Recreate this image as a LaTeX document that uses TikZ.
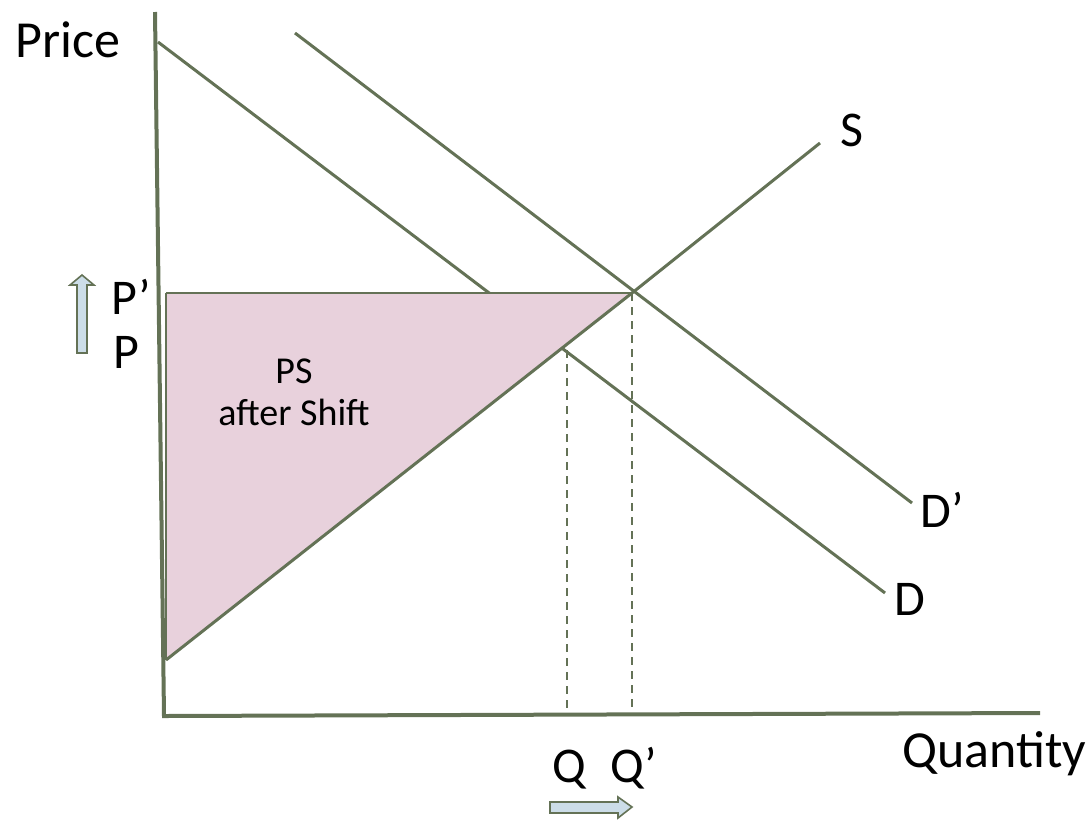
\documentclass[tikz,border=0pt]{standalone}
\usepackage{fontspec}
\setmainfont{Carlito}
\usepackage{tikz}
\usetikzlibrary{positioning}

\definecolor{curve}{HTML}{647256}
\definecolor{psfill}{HTML}{E8D1DC}
\definecolor{shiftfill}{HTML}{CCDDE8}

\begin{document}
\begin{tikzpicture}[
		x=0.5pt, y=-0.5pt,
		axis/.style={draw=curve, line width=2pt},
		curveline/.style={draw=curve, line width=1.5pt},
		thinline/.style={draw=curve, line width=0.9pt},
		guide/.style={draw=curve, line width=0.6pt, dash pattern=on 4pt off 3pt},
		surplus/.style={fill=psfill},
		shiftarrow/.style={draw=curve, line width=0.8pt, fill=shiftfill},
		biglabel/.style={font=\fontsize{25}{28}\selectfont, inner sep=0pt},
		axislabel/.style={font=\fontsize{26}{29}\selectfont, inner sep=0pt},
		arealabel/.style={font=\fontsize{19}{21}\selectfont, align=center, inner sep=0pt}
		]
		\useasboundingbox (0,0) rectangle (1091,820);
		
		% Key points
		\coordinate (top) at (155,12);
		\coordinate (origin) at (164,716);
		\coordinate (right) at (1040,713);
		\coordinate (eq) at (632,293);
		\coordinate (eqold) at (567,350);
		\coordinate (pprime) at (166,293);
		\coordinate (sbase) at (166,660);
		
		% Demand curves
		\draw[curveline] (158,42) coordinate (dstart) -- (885,593) coordinate (dend);
		\draw[curveline] (295,33) coordinate (dpstart) -- (912,503) coordinate (dpend);
		
		% Producer surplus
		\fill[surplus] (pprime) -- (eq) -- (sbase) -- cycle;
		
		% Supply curve and price line
		\draw[curveline] (sbase) -- (eq) -- (820,143) coordinate (send);
		\draw[thinline] (pprime) -- (eq);
		\draw[thinline] (pprime) -- (sbase);
		
		% Quantity guides
		\draw[guide] (eqold) -- (eqold |- origin);
		\draw[guide] (eq) -- (eq |- origin);
		
		% Axes
		\draw[axis] (top) -- (origin) -- (right);
		
		% Labels
		\node[axislabel] (price) at (68,40) {Price};
		\node[axislabel] (quantity) at (994,754) {Quantity};
		\node[biglabel] (slabel) at (852,130) {S};
		\node[biglabel] (dplabel) at (942,510) {D’};
		\node[biglabel] (dlabel) at (910,599) {D};
		\node[biglabel] (pplabel) at (131,297) {P’};
		\node[biglabel] (plabel) at (126,352) {P};
		\node[biglabel] (qlabel) at (569,770) {Q};
		\node[biglabel] (qplabel) at (634,768) {Q’};
		\node[arealabel] (ps) at (294,392) {PS\\after Shift};
		
		% Shift arrows
		\draw[shiftarrow] (77,353) -- (77,285) -- (70,285) -- (82,275) -- (94,285) -- (87,285) -- (87,353) -- cycle;
		\draw[shiftarrow] (550,802) -- (618,802) -- (618,797) -- (632,807) -- (618,818) -- (618,813) -- (550,813) -- cycle;
		
	\end{tikzpicture}
\end{document}
